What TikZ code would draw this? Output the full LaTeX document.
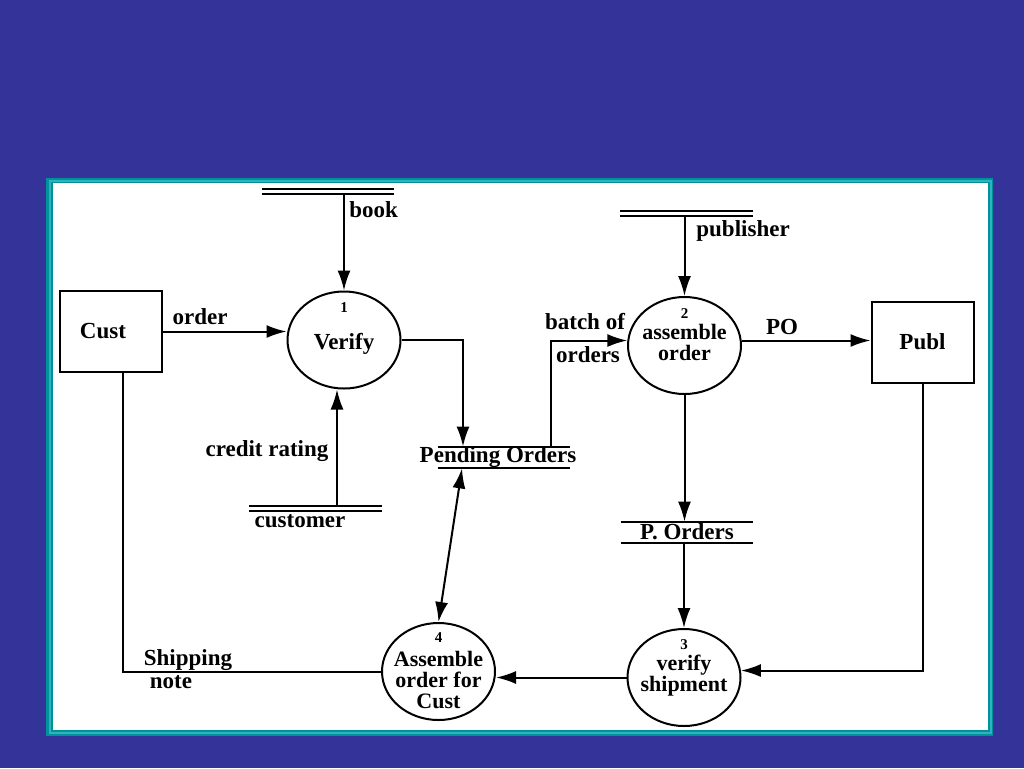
\documentclass[tikz,border=0pt]{standalone}
\usepackage{fontspec}
\setmainfont{Liberation Serif}
\usepackage{xcolor}
\usepackage{tikz}
\usetikzlibrary{
    positioning, % relative placement
    arrows.meta, % arrow tips
    shapes.geometric % ellipse
}
\tikzset{>={Latex[length=10pt,width=6.5pt]}}
\definecolor{slideblue}{RGB}{51,51,153}
\definecolor{frameteal}{RGB}{0,145,155}
\definecolor{frameedge}{RGB}{45,180,190}
% two lines of a data store
\newcommand\dstore[1]{\draw[line width=1pt] (#1.north west) -- (#1.north east) (#1.south west) -- (#1.south east);}

\begin{document}
\begin{tikzpicture}[x=0.5pt,y=-0.5pt]
    % styles
    \tikzstyle{proc}   = [ellipse, draw, line width=1pt, minimum width=56.5pt, minimum height=48.5pt, inner sep=0pt]
    \tikzstyle{ent}    = [rectangle, draw, line width=1pt, minimum width=51pt, minimum height=40.5pt, inner sep=0pt]
    \tikzstyle{store}  = [minimum width=66pt, minimum height=10.5pt, inner sep=0pt]
    \tikzstyle{tstore} = [minimum width=66pt, minimum height=2.5pt, inner sep=0pt]
    \tikzstyle{flow}   = [line width=1pt]
    \tikzstyle{lbl}    = [font=\bfseries\fontsize{11.5}{12}\selectfont, inner sep=0pt]
    \tikzstyle{mlbl}   = [lbl, align=center, font=\bfseries\fontsize{11}{10.5}\selectfont]
    \tikzstyle{num}    = [font=\bfseries\fontsize{7.5}{8}\selectfont, inner sep=0pt]
    % slide and frame
    \fill[slideblue] (0,0) rectangle (1024,768);
    \fill[frameteal] (46,178) rectangle (993,736);
    \draw[frameedge, line width=1pt] (49.5,180.5) rectangle (990.5,733);
    \fill[white] (53,183) rectangle (988,730);
    \useasboundingbox (0,0) rectangle (1024,768);
    % externals
    \node[ent, label={[lbl, xshift=-4pt]center:Cust}] (cust) at (111,331.5) {};
    \node[ent, lbl] (publ) at (922.5,342) {Publ};
    % processes
    \node[proc] (p1) at (344,340) {};
    \node[num, below=6pt of p1.north] {1};
    \node[lbl] at ([yshift=-2pt]p1.center) {Verify};
    \node[proc] (p2) at (684.5,345.5) {};
    \node[num, below=6pt of p2.north] {2};
    \node[mlbl] at ([yshift=1.5pt]p2.center) {assemble\\order};
    \node[proc] (p3) at (684,677.5) {};
    \node[num, below=5.5pt of p3.north] {3};
    \node[mlbl] at ([yshift=1pt]p3.center) {verify\\shipment};
    \node[proc] (p4) at (438.5,671.5) {};
    \node[num, below=5pt of p4.north] {4};
    \node[mlbl] at ([yshift=-4pt]p4.center) {Assemble\\order for\\Cust};
    % data stores
    \node[tstore] (book) at (328,191.5) {};
    \dstore{book}
    \node[tstore] (pubst) at (686.5,213.5) {};
    \dstore{pubst}
    \node[tstore] (custst) at (315.5,508.5) {};
    \dstore{custst}
    \node[store] (pend) at (504,457.5) {};
    \dstore{pend}
    \node[lbl] at ([xshift=-3pt]pend.center) {Pending Orders};
    \node[store] (pord) at (687,532.5) {};
    \dstore{pord}
    \node[lbl] at ([yshift=0.5pt]pord.center) {P. Orders};
    % flows
    \draw[flow,->] (book.south -| p1) -- (p1.north);
    \node[lbl, anchor=west] at (349,210) {book};
    \draw[flow,->] (cust.east) -- (p1.west |- cust.east);
    \node[lbl] at (200,317) {order};
    \draw[flow,->] ([xshift=-3.5pt]custst.north -| p1) -- ([xshift=-3.5pt]p1.south);
    \node[lbl] at (267,451) {credit rating};
    \node[lbl] at (300,521) {customer};
    \draw[flow,->] (p1.east) -| ([xshift=-20.5pt]pend.north);
    \draw[flow,->] ([xshift=23.5pt]pend.north) |- (p2.175);
    \node[lbl] at (585,322) {batch of};
    \node[lbl] at (588,355) {orders};
    \draw[flow,->] (pubst.south -| p2) -- (p2.north);
    \node[lbl, anchor=west] at (696,231) {publisher};
    \draw[flow,->] (p2.5) -- (p2.5 -| publ.west);
    \node[lbl] at (782,327) {PO};
    \draw[flow,->] (p2.south) -- (p2.south |- pord.north);
    \draw[flow,->] (pord.south -| p3) -- (p3.north);
    \draw[flow,->] (publ.south) |- (p3.7);
    \draw[flow,->] (p3.west) -- (p4.east |- p3.west);
    \draw[flow] ([xshift=6pt]cust.south) |- (p4.west);
    \node[lbl] at (188,660) {Shipping};
    \node[lbl] at (171,682) {note};
    \draw[flow,<->] ([xshift=-21pt]pend.south) -- (p4.north);
\end{tikzpicture}
\end{document}
